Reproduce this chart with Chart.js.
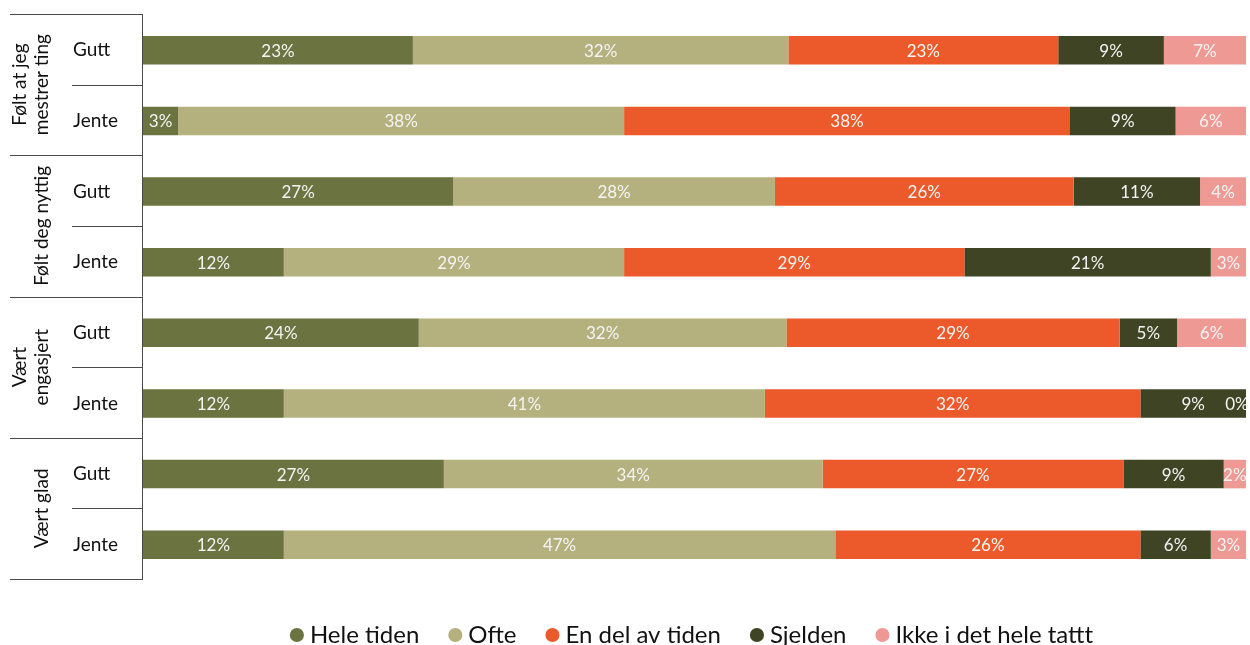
<!DOCTYPE html>
<html>
<head>
<meta charset="utf-8">
<script src="https://cdn.jsdelivr.net/npm/chart.js@4"></script>
<style>
  html, body { margin: 0; padding: 0; background: #fff; }
  #wrap { width: 1250px; height: 645px; }
</style>
</head>
<body>
<div id="wrap"><canvas id="chart" width="1250" height="645"></canvas></div>
<script>
// grupper (hver gruppe har Gutt og Jente)
var groupLabels = [["Følt at jeg", "mestrer ting"], ["Følt deg nyttig"], ["Vært", "engasjert"], ["Vært glad"]];
var rowLabels = ["Gutt", "Jente", "Gutt", "Jente", "Gutt", "Jente", "Gutt", "Jente"];

var seriesNames = ["Hele tiden", "Ofte", "En del av tiden", "Sjelden", "Ikke i det hele tattt"];
var heleTiden = [23, 3, 27, 12, 24, 12, 27, 12];
var ofte      = [32, 38, 28, 29, 32, 41, 34, 47];
var enDel     = [23, 38, 26, 29, 29, 32, 27, 26];
var sjelden   = [9, 9, 11, 21, 5, 9, 9, 6];
var ikke      = [7, 6, 4, 3, 6, 0, 2, 3];

var colors = ["#6b7340", "#b4b17e", "#ec5a2c", "#3e4424", "#ee9994"];
var allSeries = [heleTiden, ofte, enDel, sjelden, ikke];

// summer per rad, sa stolpene fyller 100 %
var rowSums = rowLabels.map(function (_, i) {
  return allSeries.reduce(function (s, arr) { return s + arr[i]; }, 0);
});

var FONT = "Lato, 'Open Sans', sans-serif";

var datasets = allSeries.map(function (arr, k) {
  return {
    label: seriesNames[k],
    data: arr.map(function (v, i) { return v / rowSums[i] * 100; }),
    raw: arr,
    backgroundColor: colors[k],
    borderWidth: 0,
    barPercentage: 0.81,
    categoryPercentage: 0.5
  };
});

// etiketter i stolpene
var valueLabels = {
  id: "valueLabels",
  afterDatasetsDraw: function (chart) {
    var ctx = chart.ctx;
    ctx.save();
    ctx.font = "17px " + FONT;
    ctx.fillStyle = "#f4f4f4";
    ctx.textAlign = "center";
    ctx.textBaseline = "middle";
    chart.data.datasets.forEach(function (ds, k) {
      var meta = chart.getDatasetMeta(k);
      meta.data.forEach(function (bar, i) {
        var x = (bar.x + bar.base) / 2;
        if (ds.raw[i] === 0) x -= 9;
        ctx.fillText(ds.raw[i] + "%", x, bar.y + 1);
      });
    });
    ctx.restore();
  }
};

// venstre aksen med grupper og linjer
var groupAxis = {
  id: "groupAxis",
  afterDraw: function (chart) {
    var ctx = chart.ctx;
    var y = chart.scales.y;
    var area = chart.chartArea;
    var step = y.getPixelForValue(1) - y.getPixelForValue(0);
    ctx.save();
    ctx.strokeStyle = "#4a4a4a";
    ctx.lineWidth = 1;
    ctx.beginPath();
    ctx.moveTo(area.left - 0.5, area.top - 1);
    ctx.lineTo(area.left - 0.5, area.bottom - 1);
    for (var i = 0; i <= rowLabels.length; i++) {
      var py = Math.round(y.getPixelForValue(i) - step / 2) - 0.5;
      if (i % 2 === 0) {
        ctx.moveTo(10, py);
      } else {
        ctx.moveTo(72, py);
      }
      ctx.lineTo(area.left, py);
    }
    ctx.stroke();

    ctx.fillStyle = "#111";
    ctx.font = "19px " + FONT;
    ctx.textAlign = "left";
    ctx.textBaseline = "middle";
    rowLabels.forEach(function (t, i) {
      ctx.fillText(t, 73, y.getPixelForValue(i));
    });

    ctx.textAlign = "center";
    groupLabels.forEach(function (lines, g) {
      var cy = (y.getPixelForValue(g * 2) + y.getPixelForValue(g * 2 + 1)) / 2 - 1;
      lines.forEach(function (line, j) {
        var cx = 42 - (lines.length - 1 - j) * 22;
        ctx.save();
        ctx.translate(cx, cy);
        ctx.rotate(-Math.PI / 2);
        ctx.fillText(line, 0, 0);
        ctx.restore();
      });
    });
    ctx.restore();
  }
};

var chart = new Chart(document.getElementById("chart").getContext("2d"), {
  type: "bar",
  data: { labels: rowLabels, datasets: datasets },
  options: {
    indexAxis: "y",
    responsive: false,
    animation: false,
    layout: { padding: { top: 15, right: 4, left: 0, bottom: -12 } },
    scales: {
      x: { display: false, stacked: true, min: 0, max: 100 },
      y: {
        stacked: true,
        ticks: { display: false },
        grid: { display: false },
        border: { display: false },
        afterFit: function (scale) { scale.width = 143; }
      }
    },
    plugins: {
      tooltip: { enabled: false },
      legend: {
        position: "bottom",
        fullSize: false,
        title: { display: true, text: " ", font: { size: 5 }, padding: { top: 2, bottom: 0 } },
        labels: {
          usePointStyle: true,
          pointStyle: "circle",
          boxWidth: 2,
          boxHeight: 10,
          padding: 35,
          color: "#111",
          font: { family: FONT, size: 24 }
        }
      }
    }
  },
  plugins: [valueLabels, groupAxis]
});
</script>
</body>
</html>
